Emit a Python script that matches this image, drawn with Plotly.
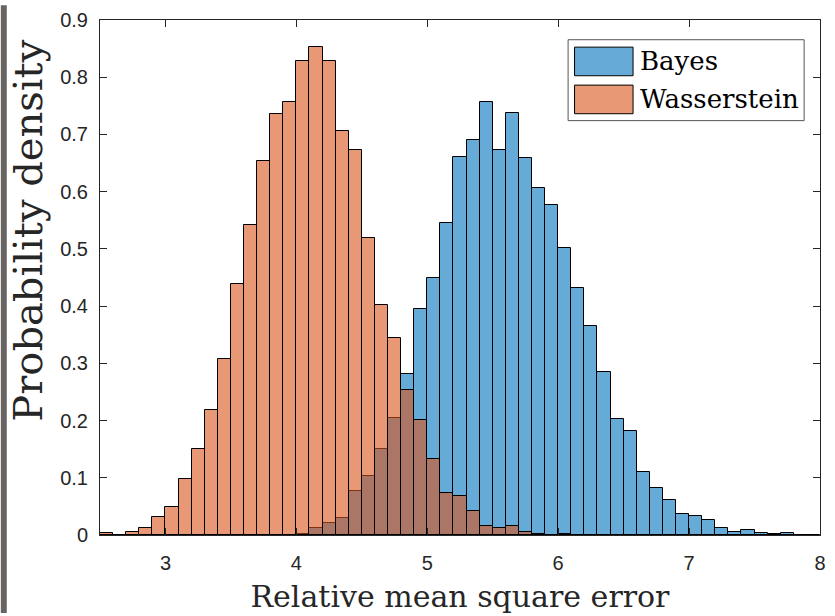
import plotly.graph_objects as go

# ---- data ----
BIN_START = 2.5
BIN_WIDTH = 0.1

bayes = [None, None, None, None, None, None, None, None, None, None,
         None, None, None, 0.0005, 0.0005, 0.001, 0.012, 0.021, 0.030, 0.077,
         0.103, 0.151, 0.205, 0.282, 0.395, 0.450, 0.546, 0.660, 0.690, 0.757,
         0.673, 0.737, 0.658, 0.607, 0.577, 0.501, 0.432, 0.365, 0.285, 0.203,
         0.181, 0.110, 0.082, 0.061, 0.036, 0.034, 0.026, 0.012, 0.006, 0.009,
         0.004, 0.002, 0.0035, 0.0003, 0.0008]

wasserstein = [0.003, 0.0008, 0.006, 0.013, 0.031, 0.049, 0.097, 0.151, 0.219, 0.308,
               0.439, 0.541, 0.654, 0.736, 0.757, 0.829, 0.852, 0.829, 0.706, 0.673,
               0.519, 0.402, 0.345, 0.254, 0.201, 0.133, 0.073, 0.069, 0.042, 0.016,
               0.013, 0.016, 0.006, 0.002, 0.0005, 0.002, 0.0006, None, None, None,
               None, None, None, None, None, None, None, None, None, None,
               None, None, None, None, None]

x_ticks = [3, 4, 5, 6, 7, 8]
x_ticktext = ["3", "4", "5", "6", "7", "8"]
y_ticks = [0, 0.1, 0.2, 0.3, 0.4, 0.5, 0.6, 0.7, 0.8, 0.9]
y_ticktext = ["0", "0.1", "0.2", "0.3", "0.4", "0.5", "0.6", "0.7", "0.8", "0.9"]

series_names = ["Bayes", "Wasserstein"]
series_colors = ["rgba(0,114,189,0.6)", "rgba(217,83,25,0.6)"]

centers = [round(BIN_START + BIN_WIDTH * (i + 0.5), 3) for i in range(len(bayes))]

# ---- figure ----
W, H = 835, 616
ML, MR, MT, MB = 100, 9, 15, 79
PW, PH = W - ML - MR, H - MT - MB

def px(x):
    return (x - ML) / PW

def py(y):
    return (H - MB - y) / PH

fig = go.Figure()
for name, vals, col in zip(series_names, [bayes, wasserstein], series_colors):
    fig.add_trace(go.Bar(
        x=centers, y=vals, width=BIN_WIDTH, name=name,
        marker=dict(color=col, line=dict(color="black", width=1)),
        showlegend=False,
    ))

AX = "#262626"
tickfont = dict(family="Liberation Sans, Arial, sans-serif", size=20, color=AX)

fig.update_layout(
    width=W, height=H,
    margin=dict(l=ML, r=MR, t=MT, b=MB),
    paper_bgcolor="white", plot_bgcolor="white",
    barmode="overlay", bargap=0,
    xaxis=dict(
        range=[2.5, 8], tickmode="array", tickvals=x_ticks, ticktext=x_ticktext,
        ticks="inside", ticklen=7, tickcolor=AX, tickwidth=1,
        showline=True, linecolor=AX, linewidth=1, mirror="ticks",
        showgrid=False, zeroline=False, tickfont=tickfont, ticklabelstandoff=10,
        title=dict(text="Relative mean square error",
                   font=dict(family="DejaVu Serif, serif", size=30, color=AX),
                   standoff=12),
    ),
    yaxis=dict(
        range=[0, 0.9], tickmode="array", tickvals=y_ticks, ticktext=y_ticktext,
        ticks="inside", ticklen=7, tickcolor=AX, tickwidth=1,
        showline=True, linecolor=AX, linewidth=1, mirror="ticks",
        showgrid=False, zeroline=False, tickfont=tickfont, ticklabelstandoff=7,
    ),
)

# y axis title (placed as in the reference, slightly above axis centre)
fig.add_annotation(xref="paper", yref="paper", x=px(28), y=py(229),
                   text="Probability density", showarrow=False, textangle=-90,
                   xanchor="center", yanchor="middle",
                   font=dict(family="DejaVu Serif, serif", size=40, color=AX))

# gray strip at the left edge of the picture
fig.add_shape(type="rect", xref="paper", yref="paper",
              x0=px(0), x1=px(6), y0=py(H), y1=py(0),
              fillcolor="#676462", line=dict(width=0), layer="above")

# manual legend (MATLAB style, wide swatches)
fig.add_shape(type="rect", xref="paper", yref="paper",
              x0=px(572), x1=px(810), y0=py(117), y1=py(35),
              fillcolor="white", line=dict(color="#555555", width=1), layer="above")
sw = [(42.5, 71.5), (81, 110)]
for (y0, y1), name, col in zip(sw, series_names, series_colors):
    fig.add_shape(type="rect", xref="paper", yref="paper",
                  x0=px(578.5), x1=px(637.5), y0=py(y1), y1=py(y0),
                  fillcolor=col, line=dict(color="black", width=1), layer="above")
    fig.add_annotation(xref="paper", yref="paper", x=px(642), y=py((y0 + y1) / 2),
                       text=name, showarrow=False, xanchor="left", yanchor="middle",
                       font=dict(family="DejaVu Serif, serif", size=26, color="black"))

fig.write_html("out.html")
